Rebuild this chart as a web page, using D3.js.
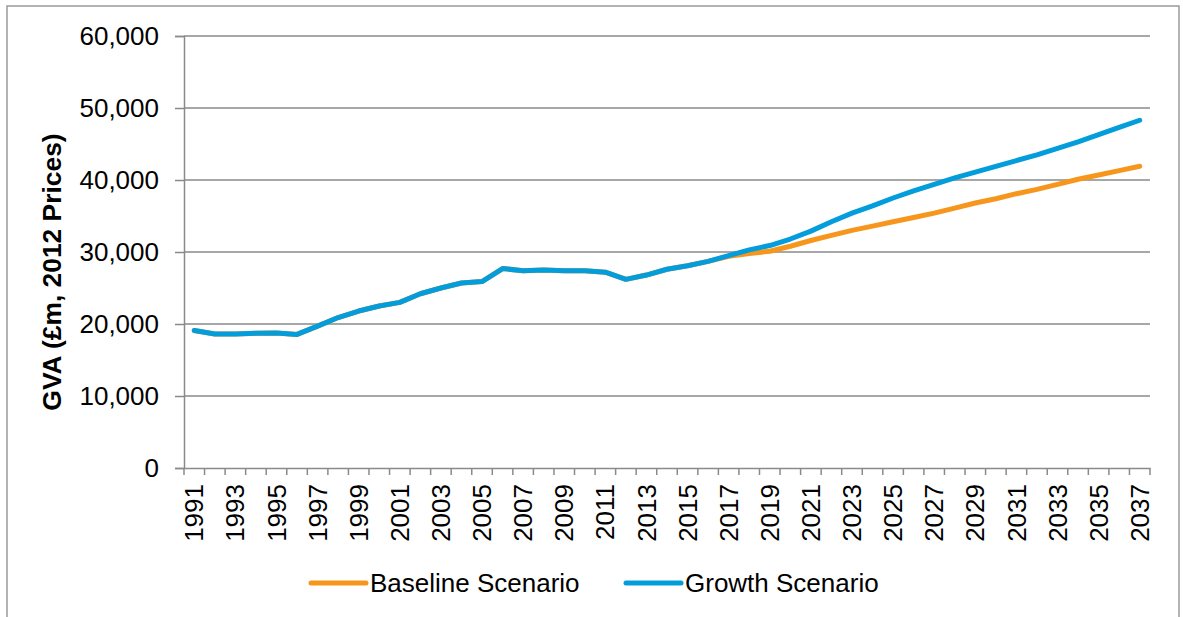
<!DOCTYPE html>
<html>
<head>
<meta charset="utf-8">
<script src="https://cdn.jsdelivr.net/npm/d3@7.9.0/dist/d3.min.js"></script>
<style>
  body { margin: 0; background: #fff; }
  svg { display: block; font-family: "Liberation Sans", Arial, sans-serif; }
</style>
</head>
<body>
<svg id="chart" width="1183" height="617"></svg>
<script>
// years on the category axis
const years = d3.range(1991, 2038);

// GVA (£m, 2012 prices)
const growthValues = [
  19100, 18600, 18600, 18700, 18750, 18550, 19700, 20900, 21800, 22500,
  23000, 24200, 25000, 25700, 25900, 27700, 27400, 27500, 27400, 27400,
  27200, 26200, 26800, 27600, 28100, 28700, 29500, 30300, 30900, 31800,
  32900, 34200, 35400, 36400, 37500, 38500, 39400, 40300, 41100, 41900,
  42700, 43500, 44400, 45300, 46300, 47300, 48300
];
const baselineValues = [
  19100, 18600, 18600, 18700, 18750, 18550, 19700, 20900, 21800, 22500,
  23000, 24200, 25000, 25700, 25900, 27700, 27400, 27500, 27400, 27400,
  27200, 26200, 26800, 27600, 28100, 28700, 29400, 29800, 30100, 30800,
  31600, 32300, 33000, 33600, 34200, 34800, 35400, 36100, 36800, 37400,
  38100, 38700, 39400, 40100, 40700, 41300, 41900
];
const yTicks = [0, 10000, 20000, 30000, 40000, 50000, 60000];
const seriesNames = ["Baseline Scenario", "Growth Scenario"];
const seriesColors = ["#F7961D", "#049DDB"];

const svg = d3.select("#chart");
const margin = { top: 36, right: 33, bottom: 149, left: 184 };
const width = 1183, height = 617;
const innerW = width - margin.left - margin.right;
const innerH = height - margin.top - margin.bottom;
const fontSize = "26px";

// outer chart border
svg.append("rect")
  .attr("x", 7).attr("y", 6)
  .attr("width", 1172).attr("height", 640)
  .attr("fill", "none")
  .attr("stroke", "#9a9a9a")
  .attr("stroke-width", 1.5);

const g = svg.append("g").attr("transform", `translate(${margin.left},${margin.top})`);

const x = d3.scaleBand().domain(years).range([0, innerW]).padding(0);
const y = d3.scaleLinear().domain([0, 60000]).range([innerH, 0]);

// gridlines + y axis
const yAxis = g.append("g")
  .call(d3.axisLeft(y).tickValues(yTicks).tickSize(9).tickFormat(d3.format(",")));
yAxis.select(".domain").attr("stroke", "#8a8a8a").attr("stroke-width", 1.5);
yAxis.selectAll(".tick line").attr("stroke", "#8a8a8a").attr("stroke-width", 1.5);
yAxis.selectAll(".tick text")
  .attr("x", -25)
  .style("font-size", fontSize)
  .attr("fill", "#000");

g.append("g")
  .selectAll("line")
  .data(yTicks.filter(d => d > 0))
  .join("line")
  .attr("x1", 0).attr("x2", innerW)
  .attr("y1", d => y(d)).attr("y2", d => y(d))
  .attr("stroke", "#8a8a8a")
  .attr("stroke-width", 1.5);

// x axis: ticks at category boundaries, labels every second year
const xAxis = g.append("g")
  .attr("transform", `translate(0,${innerH})`)
  .call(d3.axisBottom(x).tickSize(0).tickFormat(d => (d - 1991) % 2 === 0 ? d : ""));
xAxis.select(".domain").attr("stroke", "#8a8a8a").attr("stroke-width", 1.5);
xAxis.selectAll(".tick text")
  .style("font-size", fontSize)
  .attr("fill", "#000")
  .style("text-anchor", "end")
  .attr("transform", "rotate(-90)")
  .attr("x", -16)
  .attr("y", 0)
  .attr("dy", "0.35em");

const boundaries = years.map(d => x(d)).concat([innerW]);
g.append("g")
  .selectAll("line")
  .data(boundaries)
  .join("line")
  .attr("x1", d => d).attr("x2", d => d)
  .attr("y1", innerH).attr("y2", innerH + 7)
  .attr("stroke", "#8a8a8a")
  .attr("stroke-width", 1.5);

// lines
const line = d3.line()
  .x((d, i) => x(years[i]) + x.bandwidth() / 2)
  .y(d => y(d));

[baselineValues, growthValues].forEach((vals, i) => {
  g.append("path")
    .datum(vals)
    .attr("fill", "none")
    .attr("stroke", seriesColors[i])
    .attr("stroke-width", 5)
    .attr("stroke-linejoin", "round")
    .attr("stroke-linecap", "round")
    .attr("d", line);
});

// y axis title
svg.append("text")
  .attr("transform", "translate(61,272) rotate(-90)")
  .attr("text-anchor", "middle")
  .style("font-size", "26.4px")
  .style("font-weight", "bold")
  .text("GVA (£m, 2012 Prices)");

// legend
const legendX = [311, 626];
const legend = svg.append("g").attr("transform", "translate(0,583)");
seriesNames.forEach((name, i) => {
  legend.append("line")
    .attr("x1", legendX[i]).attr("x2", legendX[i] + 55)
    .attr("y1", 0).attr("y2", 0)
    .attr("stroke", seriesColors[i])
    .attr("stroke-width", 5)
    .attr("stroke-linecap", "round");
  legend.append("text")
    .attr("x", legendX[i] + 59)
    .attr("y", 0)
    .attr("dy", "0.35em")
    .style("font-size", fontSize)
    .text(name);
});
</script>
</body>
</html>
